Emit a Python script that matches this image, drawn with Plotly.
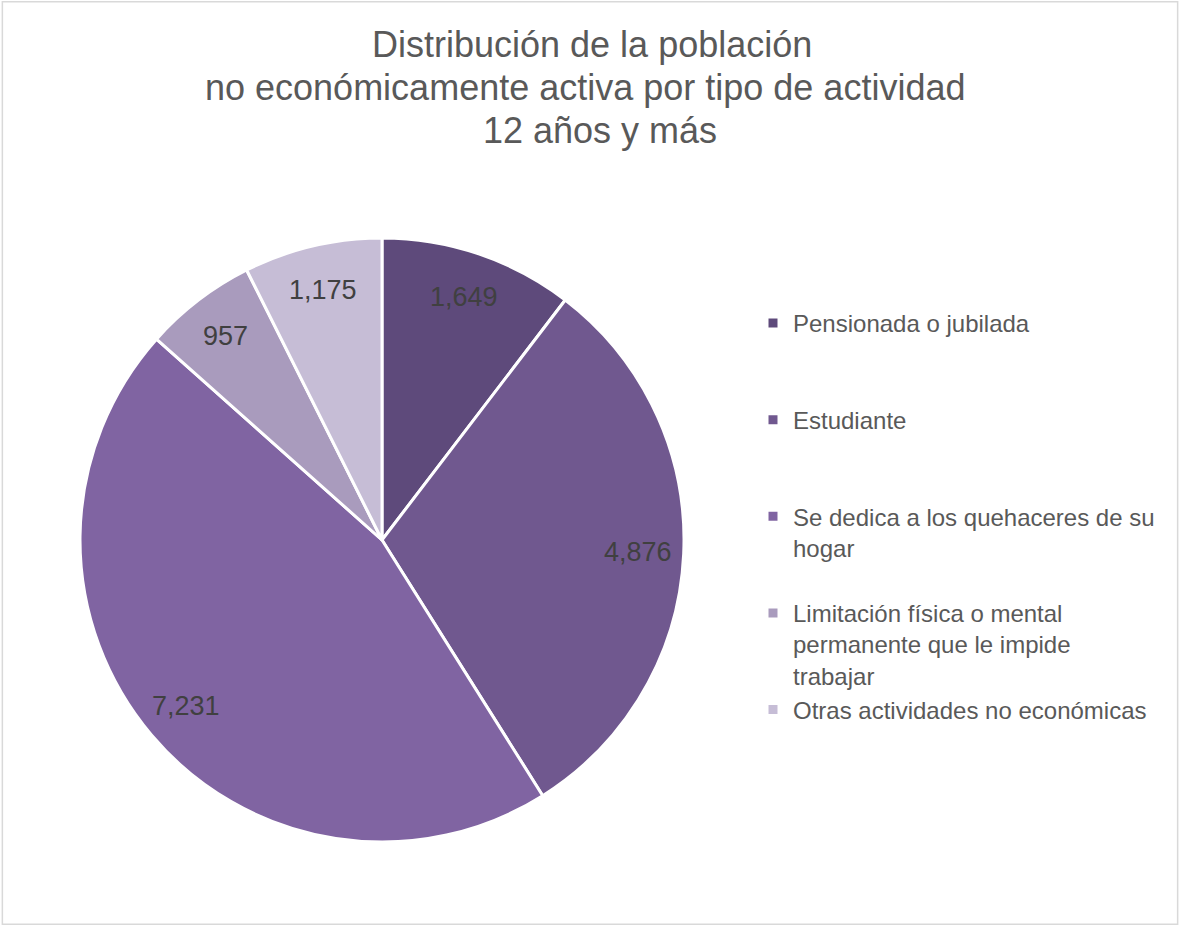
import math
import plotly.graph_objects as go

categories = [
    "Pensionada o jubilada",
    "Estudiante",
    "Se dedica a los quehaceres de su hogar",
    "Limitación física o mental permanente que le impide trabajar",
    "Otras actividades no económicas",
]
legend_labels = [
    "Pensionada o jubilada<br> <br> ",
    "Estudiante<br> <br> ",
    "Se dedica a los quehaceres de su<br>hogar<br> ",
    "Limitación física o mental<br>permanente que le impide<br>trabajar",
    "Otras actividades no económicas",
]
values = [1649, 4876, 7231, 957, 1175]
colors = ["#5E4A7B", "#70588F", "#8064A2", "#A99BBD", "#C6BDD6"]
title_lines = [
    "Distribución de la población",
    "no económicamente activa por tipo de actividad",
    "12 años y más",
]

FONT = "Liberation Sans, Arial"
W, H = 1180, 926
cx, cy, R = 382, 540, 302  # pixel layout of the pie (from top-left)

fig = go.Figure()
fig.add_trace(go.Pie(
    labels=legend_labels,
    values=values,
    sort=False,
    direction="clockwise",
    rotation=0,
    marker=dict(colors=colors, line=dict(color="white", width=3)),
    textinfo="none",
    hoverinfo="label+value",
    domain=dict(x=[(cx - R) / W, (cx + R) / W], y=[(H - cy - R) / H, (H - cy + R) / H]),
))

annotations = []
# title, one annotation per line
title_pos = [(592, 44.5), (585, 87.5), (600, 130.5)]
for line, (tx, ty) in zip(title_lines, title_pos):
    annotations.append(dict(
        x=tx / W, y=1 - ty / H, xref="paper", yref="paper",
        xanchor="center", yanchor="middle", text=line, showarrow=False,
        font=dict(family=FONT, size=36, color="#595959"),
    ))

# data labels placed near the outer edge of each slice
total = sum(values)
cum = 0
for v in values:
    mid = (cum + v / 2) / total * 2 * math.pi
    cum += v
    px = cx + 0.85 * R * math.sin(mid)
    py = cy - 0.85 * R * math.cos(mid)
    annotations.append(dict(
        x=px / W, y=1 - py / H, xref="paper", yref="paper",
        xanchor="center", yanchor="middle",
        text=f"{v:,}", showarrow=False,
        font=dict(family=FONT, size=27, color="#404040"),
    ))

fig.update_layout(
    width=W, height=H,
    margin=dict(l=0, r=0, t=0, b=0),
    paper_bgcolor="white",
    legend=dict(
        x=753 / W, xanchor="left", y=1 - 301 / H, yanchor="top",
        font=dict(family=FONT, size=24, color="#595959"),
        valign="top",
        tracegroupgap=0,
    ),
    annotations=annotations,
    shapes=[dict(type="rect", xref="paper", yref="paper", x0=0.002, y0=0.002, x1=0.998, y1=0.998,
                 line=dict(color="#D9D9D9", width=1.5))],
)

fig.write_html(
    "out.html",
    config={"displayModeBar": False},
    post_script="document.body.style.margin='0';document.body.style.overflow='hidden';",
)
